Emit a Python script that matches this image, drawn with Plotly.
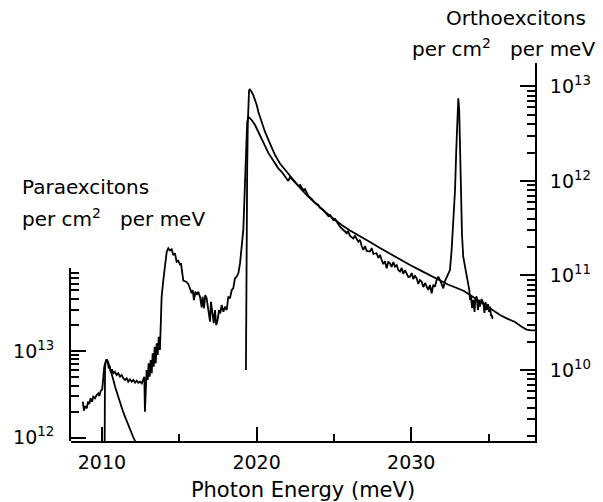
import plotly.graph_objects as go

# ---- paraexciton spectrum (left scale, per cm^2 per meV) ----
para_energy = [
    2008.76, 2008.84, 2008.92, 2009.02, 2009.10, 2009.18, 2009.27, 2009.36, 2009.44, 2009.55,
    2009.66, 2009.77, 2009.83, 2009.92, 2010.02, 2010.09, 2010.15, 2010.24, 2010.31, 2010.37,
    2010.44, 2010.50, 2010.57, 2010.65, 2010.73, 2010.84, 2010.95, 2011.06, 2011.17, 2011.28,
    2011.38, 2011.49, 2011.60, 2011.70, 2011.81, 2011.92, 2012.03, 2012.14, 2012.25, 2012.35,
    2012.46, 2012.57, 2012.67, 2012.74, 2012.78, 2012.85, 2012.89, 2012.96, 2013.02, 2013.09,
    2013.15, 2013.22, 2013.28, 2013.35, 2013.41, 2013.48, 2013.54, 2013.61, 2013.67, 2013.75,
    2013.80, 2013.86, 2013.97, 2014.08, 2014.19, 2014.29, 2014.40, 2014.51, 2014.61, 2014.72,
    2014.83, 2014.94, 2015.05, 2015.11, 2015.20, 2015.26, 2015.44, 2015.58, 2015.69, 2015.80,
    2015.87, 2015.95, 2016.04, 2016.13, 2016.23, 2016.34, 2016.45, 2016.51, 2016.60, 2016.68,
    2016.77, 2016.88, 2016.99, 2017.05, 2017.14, 2017.23, 2017.31, 2017.39, 2017.48, 2017.57,
    2017.65, 2017.74, 2017.85, 2017.96, 2018.07, 2018.17, 2018.28, 2018.39, 2018.49, 2018.60,
    2018.71, 2018.82, 2018.93, 2019.04, 2019.14,
]
para_counts = [
    2.60e12, 2.05e12, 2.32e12, 2.18e12, 2.60e12, 2.45e12, 2.85e12, 2.60e12, 2.97e12, 2.85e12,
    3.11e12, 3.25e12, 3.03e12, 3.46e12, 3.62e12, 4.63e12, 6.59e12, 7.53e12, 8.02e12, 7.53e12,
    6.32e12, 6.71e12, 5.77e12, 6.15e12, 5.53e12, 5.77e12, 5.29e12, 5.53e12, 5.05e12, 5.29e12,
    4.84e12, 4.63e12, 4.84e12, 4.43e12, 4.72e12, 4.43e12, 4.63e12, 4.31e12, 4.54e12, 4.31e12,
    4.43e12, 4.24e12, 4.63e12, 5.05e12, 1.99e12, 3.87e12, 6.04e12, 4.63e12, 7.21e12, 5.05e12,
    7.88e12, 5.53e12, 9.41e12, 6.59e12, 1.12e13, 7.21e12, 1.23e13, 8.99e12, 1.46e13, 1.03e13,
    1.75e13, 4.23e13, 6.59e13, 1.03e14, 1.40e14, 1.53e14, 1.44e14, 1.49e14, 1.28e14, 1.34e14,
    1.07e14, 1.10e14, 9.82e13, 1.03e14, 7.87e13, 6.47e13, 6.30e13, 5.93e13, 5.29e13, 4.63e13,
    5.05e13, 3.87e13, 4.83e13, 4.43e13, 4.83e13, 4.23e13, 3.19e13, 4.23e13, 3.11e13, 4.43e13,
    4.05e13, 2.97e13, 2.18e13, 3.70e13, 2.60e13, 2.09e13, 2.97e13, 1.99e13, 2.28e13, 2.97e13,
    2.72e13, 3.39e13, 2.84e13, 3.24e13, 2.97e13, 4.23e13, 4.05e13, 5.05e13, 5.29e13, 6.89e13,
    7.19e13, 7.87e13, 1.03e14, 1.60e14, 2.49e14,
]

# paraexciton model curve (left scale)
para_fit_energy = [
    2010.15, 2010.16, 2010.20, 2010.24, 2010.31, 2010.41, 2010.52, 2010.63, 2010.74, 2010.85,
    2011.01, 2011.17, 2011.33, 2011.49, 2011.65, 2011.82, 2011.98, 2012.14, 2012.27,
]
para_fit_counts = [
    1.0e11, 4.63e12, 6.5e12, 7.4e12, 8.02e12, 7.36e12, 6.37e12, 5.53e12, 4.63e12, 3.87e12,
    3.11e12, 2.49e12, 2.09e12, 1.75e12, 1.46e12, 1.23e12, 1.06e12, 9.16e11, 8.0e11,
]

# ---- orthoexciton spectrum (right scale, per cm^2 per meV) ----
ortho_energy = [
    2019.14, 2019.22, 2019.27, 2019.33, 2019.39, 2019.46, 2019.57, 2019.68, 2019.90, 2020.11,
    2020.33, 2020.54, 2020.76, 2020.98, 2021.19, 2021.40, 2021.62, 2021.84, 2022.05, 2022.16,
    2022.27, 2022.48, 2022.70, 2022.81, 2023.02, 2023.13, 2023.34, 2023.56, 2023.78, 2023.99,
    2024.10, 2024.31, 2024.42, 2024.64, 2024.75, 2024.96, 2025.07, 2025.28, 2025.39, 2025.61,
    2025.83, 2025.91, 2026.04, 2026.25, 2026.36, 2026.58, 2026.69, 2026.79, 2026.90, 2027.01,
    2027.12, 2027.33, 2027.44, 2027.55, 2027.76, 2027.87, 2027.98, 2028.09, 2028.19, 2028.30,
    2028.41, 2028.51, 2028.62, 2028.73, 2028.84, 2028.95, 2029.06, 2029.16, 2029.27, 2029.38,
    2029.48, 2029.59, 2029.70, 2029.81, 2029.92, 2030.03, 2030.13, 2030.24, 2030.35, 2030.45,
    2030.56, 2030.67, 2030.78, 2030.89, 2031.00, 2031.10, 2031.21, 2031.32, 2031.42, 2031.53,
    2031.64, 2031.75, 2031.86, 2031.97, 2032.07, 2032.18, 2032.29, 2032.39, 2032.50, 2032.61,
    2032.72, 2032.83, 2032.91, 2032.99, 2033.04, 2033.10, 2033.15, 2033.22, 2033.28, 2033.36,
    2033.47, 2033.58, 2033.69, 2033.75, 2033.80, 2033.86, 2033.93, 2034.01, 2034.09, 2034.15,
    2034.23, 2034.31, 2034.38, 2034.44, 2034.54, 2034.66, 2034.73, 2034.80, 2034.88, 2034.96,
    2035.03, 2035.09, 2035.16, 2035.20, 2035.25, 2035.30,
]
ortho_counts = [
    3.03e11, 7.11e11, 1.48e12, 2.72e12, 4.11e12, 4.79e12, 4.64e12, 4.42e12, 3.91e12, 3.32e12,
    2.78e12, 2.31e12, 1.98e12, 1.74e12, 1.53e12, 1.36e12, 1.25e12, 1.10e12, 1.00e12, 1.10e12,
    1.05e12, 9.64e11, 8.85e11, 9.07e11, 8.03e11, 8.23e11, 6.94e11, 6.45e11, 5.85e11, 5.57e11,
    5.18e11, 4.93e11, 4.70e11, 4.26e11, 4.37e11, 3.87e11, 3.96e11, 3.51e11, 3.28e11, 3.03e11,
    2.80e11, 2.96e11, 2.62e11, 2.47e11, 2.62e11, 2.28e11, 2.38e11, 2.05e11, 1.86e11, 2.05e11,
    1.82e11, 1.79e11, 1.95e11, 1.69e11, 1.72e11, 1.53e11, 1.65e11, 1.46e11, 1.32e11, 1.42e11,
    1.19e11, 1.39e11, 1.35e11, 1.23e11, 1.39e11, 1.24e11, 1.29e11, 1.14e11, 1.10e11, 1.20e11,
    1.04e11, 1.14e11, 1.06e11, 9.64e10, 9.71e10, 1.06e11, 9.18e10, 9.88e10, 9.34e10, 8.13e10,
    8.96e10, 8.60e10, 7.55e10, 8.33e10, 7.61e10, 7.03e10, 7.93e10, 6.48e10, 7.93e10, 7.61e10,
    8.96e10, 9.71e10, 8.96e10, 7.93e10, 7.32e10, 8.74e10, 9.71e10, 1.06e11, 1.14e11, 1.86e11,
    3.42e11, 8.03e11, 2.13e12, 5.64e12, 7.50e12, 5.64e12, 2.13e12, 6.30e11, 2.68e11, 1.58e11,
    1.26e11, 1.06e11, 8.54e10, 7.03e10, 5.51e10, 6.07e10, 4.53e10, 5.51e10, 4.11e10, 5.78e10,
    5.97e10, 4.31e10, 5.51e10, 4.68e10, 5.64e10, 5.08e10, 4.01e10, 5.24e10, 4.31e10, 4.99e10,
    4.11e10, 4.68e10, 3.73e10, 3.82e10, 3.55e10, 3.52e10,
]

# orthoexciton model curve (right scale)
ortho_fit_energy = [
    2019.31, 2019.33, 2019.36, 2019.39, 2019.43, 2019.47, 2019.51, 2019.55, 2019.61, 2019.68,
    2019.79, 2019.90, 2020.01, 2020.11, 2020.33, 2020.54, 2020.87, 2021.19, 2021.51, 2021.84,
    2022.27, 2022.81, 2023.34, 2023.89, 2024.42, 2024.96, 2025.50, 2026.04, 2026.69, 2027.33,
    2027.98, 2028.62, 2029.27, 2029.92, 2030.56, 2031.21, 2031.86, 2032.37, 2032.94, 2033.41,
    2033.80, 2034.23, 2034.66, 2035.09, 2035.74, 2036.17, 2036.71, 2037.14, 2037.46, 2037.74,
    2038.00,
]
ortho_fit_counts = [
    1.00e10, 5.51e10, 3.03e11, 1.31e12, 3.91e12, 7.20e12, 8.96e12, 9.41e12, 9.18e12, 8.74e12,
    8.03e12, 7.20e12, 6.37e12, 5.41e12, 4.31e12, 3.32e12, 2.49e12, 1.88e12, 1.53e12, 1.31e12,
    1.07e12, 8.43e11, 6.82e11, 5.64e11, 4.73e11, 4.01e11, 3.42e11, 2.99e11, 2.62e11, 2.26e11,
    1.95e11, 1.69e11, 1.48e11, 1.29e11, 1.14e11, 1.01e11, 8.96e10, 8.03e10, 7.38e10, 6.85e10,
    6.22e10, 5.57e10, 4.99e10, 4.42e10, 3.82e10, 3.52e10, 3.22e10, 2.87e10, 2.68e10, 2.62e10,
    2.62e10,
]

# ---- axis ticks ----
x_major = [2010, 2020, 2030]
x_minor = [2015, 2025, 2035]
x_labels = ["2010", "2020", "2030"]

left_major = [1e12, 1e13]
left_minor = [m * 10 ** e for e in (12, 13) for m in range(2, 10)]
left_labels = ["10<sup>12</sup>", "10<sup>13</sup>"]

right_major = [1e10, 1e11, 1e12, 1e13]
right_minor = [m * 10 ** e for e in (9, 10, 11, 12) for m in range(2, 10)]
right_labels = ["10<sup>10</sup>", "10<sup>11</sup>", "10<sup>12</sup>", "10<sup>13</sup>"]

FONT = "DejaVu Sans"
INK = "black"
LINE_W = 1.8

# log10 limits of each scale
left_bottom = 11.962
left_top_full = 16.322      # full plot height on the paraexciton scale
left_top_axis = 13.957      # where the drawn left axis ends
left_axis_frac = (left_top_axis - left_bottom) / (left_top_full - left_bottom)
right_range = [9.249, 13.248]

fig = go.Figure()

fig.add_trace(go.Scatter(
    x=para_energy, y=para_counts, mode="lines", yaxis="y",
    line=dict(color=INK, width=LINE_W), showlegend=False,
))
fig.add_trace(go.Scatter(
    x=para_fit_energy, y=para_fit_counts, mode="lines", yaxis="y3",
    line=dict(color=INK, width=LINE_W), showlegend=False,
))
fig.add_trace(go.Scatter(
    x=ortho_energy, y=ortho_counts, mode="lines", yaxis="y2",
    line=dict(color=INK, width=LINE_W), showlegend=False,
))
fig.add_trace(go.Scatter(
    x=ortho_fit_energy, y=ortho_fit_counts, mode="lines", yaxis="y2",
    line=dict(color=INK, width=LINE_W), showlegend=False,
))

tick_font = dict(family=FONT, size=19, color=INK)

fig.update_layout(
    width=603, height=502,
    margin=dict(l=71, r=68, t=63, b=61, autoexpand=False),
    paper_bgcolor="white", plot_bgcolor="rgba(0,0,0,0)",
    font=dict(family=FONT, size=19, color=INK),
    xaxis=dict(
        range=[2008, 2038], showgrid=False, zeroline=False, automargin=False,
        showline=True, linecolor=INK, linewidth=2,
        tickmode="array", tickvals=x_major, ticktext=x_labels,
        ticks="inside", ticklen=14, tickwidth=1.5, tickcolor=INK,
        minor=dict(tickmode="array", tickvals=x_minor, ticks="inside",
                   ticklen=7, tickwidth=1.5, tickcolor=INK, showgrid=False),
        tickfont=tick_font, ticklabelstandoff=3,
        title=dict(text="Photon Energy (meV)", font=dict(family=FONT, size=21, color=INK),
                   standoff=28),
    ),
    yaxis=dict(
        type="log", range=[left_bottom, left_top_full], visible=False,
        showgrid=False, zeroline=False, automargin=False,
    ),
    yaxis3=dict(
        type="log", range=[left_bottom, left_top_axis], domain=[0, left_axis_frac],
        anchor="x", side="left", showgrid=False, zeroline=False, automargin=False,
        showline=True, linecolor=INK, linewidth=2,
        tickmode="array", tickvals=left_major, ticktext=left_labels,
        ticks="inside", ticklen=15, tickwidth=1.5, tickcolor=INK,
        minor=dict(tickmode="array", tickvals=left_minor, ticks="inside",
                   ticklen=8, tickwidth=1.5, tickcolor=INK, showgrid=False),
        tickfont=tick_font, ticklabelstandoff=11,
    ),
    yaxis2=dict(
        type="log", range=right_range, overlaying="y", anchor="x", side="right",
        showgrid=False, zeroline=False, automargin=False,
        showline=True, linecolor=INK, linewidth=2,
        tickmode="array", tickvals=right_major, ticktext=right_labels,
        ticks="inside", ticklen=15, tickwidth=1.5, tickcolor=INK,
        minor=dict(tickmode="array", tickvals=right_minor, ticks="inside",
                   ticklen=8, tickwidth=1.5, tickcolor=INK, showgrid=False),
        tickfont=tick_font, ticklabelstandoff=9,
    ),
)

label_font = dict(family=FONT, size=20, color=INK)
notes = [
    ("Orthoexcitons", 0.958, 1.119, "center"),
    ("per cm<sup>2</sup>&nbsp;&nbsp; per meV", 0.932, 1.040, "center"),
    ("Paraexcitons", -0.110, 0.672, "left"),
    ("per cm<sup>2</sup>&nbsp;&nbsp; per meV", -0.110, 0.590, "left"),
]
for text, ax, ay, anchor in notes:
    fig.add_annotation(
        text=text, xref="paper", yref="paper", x=ax, y=ay,
        xanchor=anchor, yanchor="middle", showarrow=False, font=label_font,
    )

fig.write_html("out.html")
